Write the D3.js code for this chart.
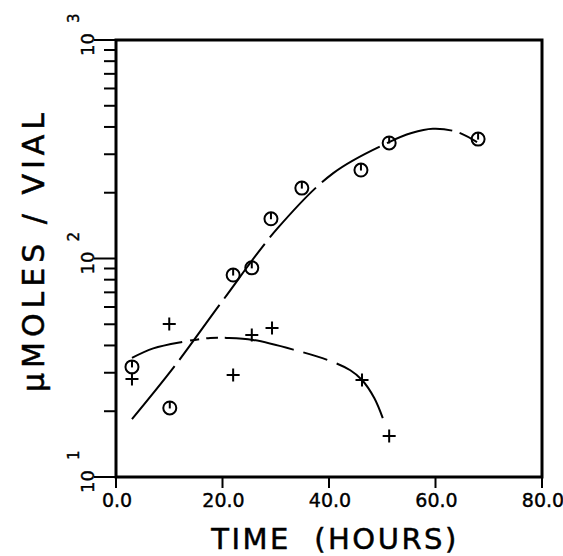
<!DOCTYPE html>
<html>
<head>
<meta charset="utf-8">
<script src="https://cdn.jsdelivr.net/npm/d3@7"></script>
<style>
  html, body { margin: 0; padding: 0; background: #fff; }
  svg { display: block; }
  text { font-family: "DejaVu Sans", sans-serif; fill: #000; }
</style>
</head>
<body>
<svg id="chart" width="563" height="556"></svg>
<script>
// measured points (time in hours, umoles/vial)
const circleTime = [3.0, 10.1, 22.0, 25.5, 29.1, 34.9, 46.0, 51.3, 68.0];
const circleValue = [31.9, 20.7, 84, 90.6, 152, 210, 254, 338, 352];

const plusTime = [3.0, 10.0, 22.0, 25.5, 29.3, 46.2, 51.3];
const plusValue = [28.1, 50.1, 29.3, 44.7, 48.1, 27.8, 15.4];

// fitted curves
const circleFitTime = [3.0, 10.9, 20.1, 30.4, 40.8, 51.3, 55.5, 59.5, 64.0, 67.8];
const circleFitValue = [18.4, 31.9, 64.5, 138, 246, 341, 375, 392, 380, 341];

const plusFitTime = [3.0, 7.0, 12.4, 17.7, 20.8, 25.7, 33.6, 40.2, 44.0, 46.2, 48.5, 50.1];
const plusFitValue = [35.1, 38.8, 41.5, 43.3, 43.3, 42.4, 38.1, 34.0, 30.8, 27.8, 23.0, 18.6];

const xTicks = [0, 20, 40, 60, 80];
const xTickLabels = ["0.0", "20.0", "40.0", "60.0", "80.0"];
const yMajor = [10, 100, 1000];
const yExponents = ["1", "2", "3"];

const svg = d3.select('#chart');

const x = d3.scaleLinear().domain([0, 80]).range([116, 542]);
const y = d3.scaleLog().domain([10, 1000]).range([477, 40]);

// minor log ticks
const yMinor = [];
[10, 100].forEach(dec => {
    for (let k = 2; k <= 9; k++) yMinor.push(dec * k);
});

const axisG = svg.append('g');

axisG.selectAll('line.minor')
    .data(yMinor)
    .enter()
    .append('line')
    .attr('x1', x(0) - 12).attr('x2', x(0))
    .attr('y1', d => y(d)).attr('y2', d => y(d))
    .attr('stroke', '#000').attr('stroke-width', 2);

axisG.selectAll('line.major')
    .data(yMajor)
    .enter()
    .append('line')
    .attr('x1', x(0) - 22).attr('x2', x(0))
    .attr('y1', d => y(d)).attr('y2', d => y(d))
    .attr('stroke', '#000').attr('stroke-width', 2);

// y labels: "10" with exponent, rotated
yMajor.forEach((v, i) => {
    const t = axisG.append('text')
        .attr('transform', `translate(94,${y(v) + 16}) rotate(-90)`)
        .attr('font-size', 18)
        .attr('stroke', '#000')
        .attr('stroke-width', 0.4);
    t.append('tspan').text('10');
    t.append('tspan').attr('dx', 10).attr('dy', -15).attr('font-size', 15).text(yExponents[i]);
});

// x ticks
axisG.selectAll('line.xt')
    .data(xTicks)
    .enter()
    .append('line')
    .attr('x1', d => x(d)).attr('x2', d => x(d))
    .attr('y1', y(10)).attr('y2', y(10) + 11)
    .attr('stroke', '#000').attr('stroke-width', 2);

axisG.selectAll('text.xl')
    .data(xTicks)
    .enter()
    .append('text')
    .attr('x', d => x(d) + 1)
    .attr('y', 507)
    .attr('text-anchor', 'middle')
    .attr('font-size', 19)
    .attr('stroke', '#000')
    .attr('stroke-width', 0.4)
    .text((d, i) => xTickLabels[i]);

// frame
svg.append('rect')
    .attr('x', x(0)).attr('y', y(1000))
    .attr('width', x(80) - x(0)).attr('height', y(10) - y(1000))
    .attr('fill', 'none').attr('stroke', '#000').attr('stroke-width', 3);

// axis titles
svg.append('text')
    .attr('x', 335).attr('y', 549)
    .attr('text-anchor', 'middle')
    .attr('font-size', 29)
    .attr('letter-spacing', 2.5)
    .attr('stroke', '#000')
    .attr('stroke-width', 0.5)
    .attr('xml:space', 'preserve')
    .text('TIME  (HOURS)');

svg.append('text')
    .attr('transform', 'translate(44,250) rotate(-90)')
    .attr('text-anchor', 'middle')
    .attr('font-size', 30)
    .attr('letter-spacing', 5)
    .attr('stroke', '#000')
    .attr('stroke-width', 0.5)
    .attr('xml:space', 'preserve')
    .text('\u03BCMOLES / VIAL');

// fitted curves
const line = d3.line()
    .x(d => x(d[0]))
    .y(d => y(d[1]))
    .curve(d3.curveCatmullRom.alpha(0.5));

svg.append('path')
    .datum(circleFitTime.map((t, i) => [t, circleFitValue[i]]))
    .attr('d', line)
    .attr('fill', 'none')
    .attr('stroke', '#000')
    .attr('stroke-width', 2)
    .attr('stroke-dasharray', '68,8');

svg.append('path')
    .datum(plusFitTime.map((t, i) => [t, plusFitValue[i]]))
    .attr('d', line)
    .attr('fill', 'none')
    .attr('stroke', '#000')
    .attr('stroke-width', 2)
    .attr('stroke-dasharray', '53,8,9,7,12,7,70,10,25,10,80');

// circle markers with a tick
const circles = svg.append('g')
    .selectAll('g')
    .data(circleTime.map((t, i) => [t, circleValue[i]]))
    .enter()
    .append('g')
    .attr('transform', d => `translate(${x(d[0])},${y(d[1])})`);

circles.append('circle')
    .attr('r', 6.5)
    .attr('fill', 'none')
    .attr('stroke', '#000')
    .attr('stroke-width', 2);

circles.append('line')
    .attr('x1', 0).attr('x2', 0)
    .attr('y1', -6.5).attr('y2', 0.5)
    .attr('stroke', '#000')
    .attr('stroke-width', 2);

// plus markers
const pluses = svg.append('g')
    .selectAll('path')
    .data(plusTime.map((t, i) => [t, plusValue[i]]))
    .enter()
    .append('path')
    .attr('d', d => {
        const cx = x(d[0]), cy = y(d[1]);
        return `M${cx - 6.5},${cy}H${cx + 6.5}M${cx},${cy - 6.5}V${cy + 6.5}`;
    })
    .attr('stroke', '#000')
    .attr('stroke-width', 2);
</script>
</body>
</html>
